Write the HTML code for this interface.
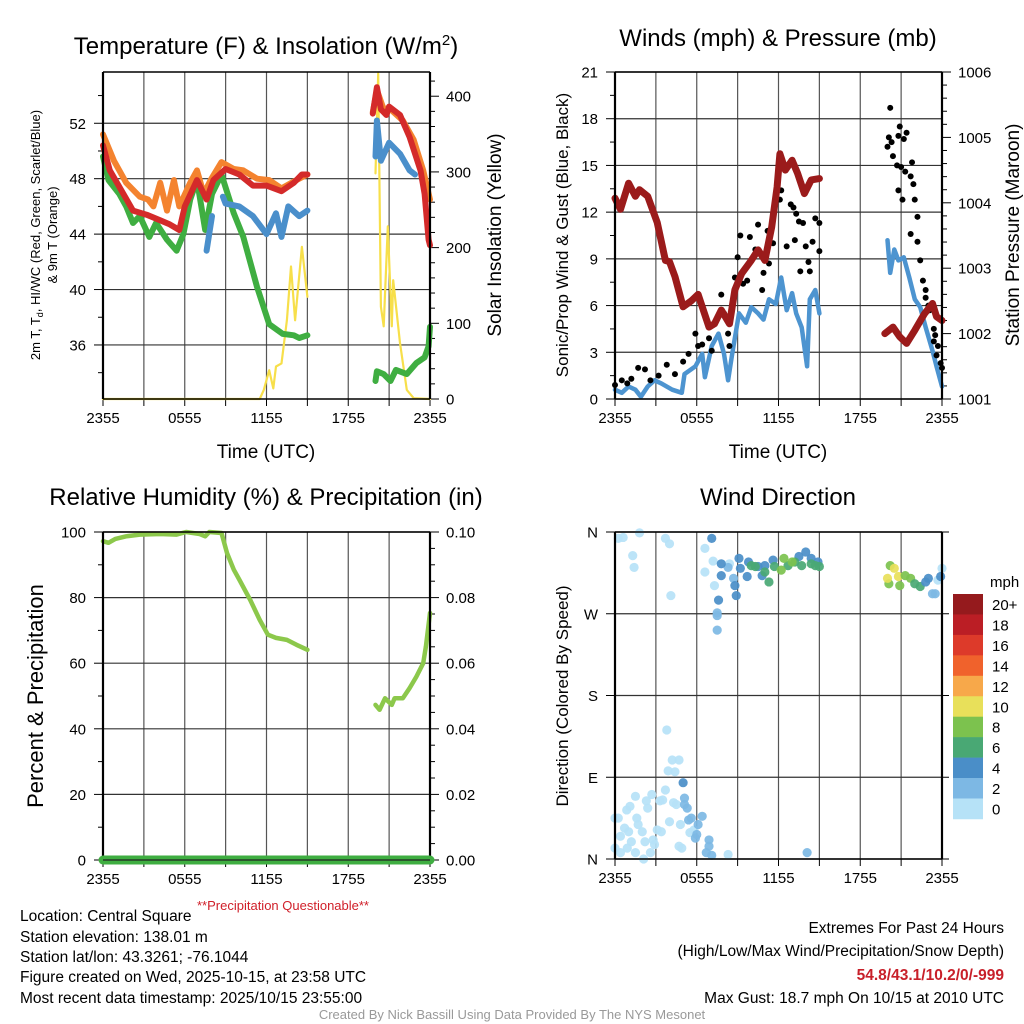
<!DOCTYPE html>
<html><head><meta charset="utf-8"><style>
html,body{margin:0;padding:0;background:#fff;}
svg{display:block;font-family:"Liberation Sans",Arial,sans-serif;}
</style></head><body>
<svg id="fig" width="1024" height="1024" viewBox="0 0 1024 1024" xmlns="http://www.w3.org/2000/svg">
<rect width="1024" height="1024" fill="#fff"/>
<g id="layer"></g>
<g font-size="24" text-anchor="middle" fill="#000">
<text x="266" y="54">Temperature (F) &amp; Insolation (W/m<tspan dy="-9" font-size="15">2</tspan><tspan dy="9">)</tspan></text>
<text x="778" y="46">Winds (mph) &amp; Pressure (mb)</text>
<text x="266" y="505">Relative Humidity (%) &amp; Precipitation (in)</text>
<text x="778" y="505">Wind Direction</text>
</g>
<g font-size="19" text-anchor="middle">
<text x="266" y="458">Time (UTC)</text>
<text x="778" y="458">Time (UTC)</text>
<text transform="translate(501,235) rotate(-90)">Solar Insolation (Yellow)</text>
<text font-size="17" transform="translate(568,235) rotate(-90)">Sonic/Prop Wind &amp; Gust (Blue, Black)</text>
<text transform="translate(1019,235) rotate(-90)">Station Pressure (Maroon)</text>
<text font-size="22" transform="translate(43,696) rotate(-90)">Percent &amp; Precipitation</text>
<text font-size="17" transform="translate(568,696) rotate(-90)">Direction (Colored By Speed)</text>
<text font-size="13" transform="translate(40,235) rotate(-90)">2m T, T<tspan font-size="9" dy="3">d</tspan><tspan dy="-3">, HI/WC (Red, Green, Scarlet/Blue)</tspan></text>
<text font-size="13" transform="translate(57,235) rotate(-90)">&amp; 9m T (Orange)</text>
</g>
<text x="283" y="910" font-size="13" fill="#d0202a" text-anchor="middle">**Precipitation Questionable**</text>
<g font-size="15.5" fill="#000">
<text x="20" y="921">Location: Central Square</text>
<text x="20" y="942">Station elevation: 138.01 m</text>
<text x="20" y="962">Station lat/lon: 43.3261; -76.1044</text>
<text x="20" y="982">Figure created on Wed, 2025-10-15, at 23:58 UTC</text>
<text x="20" y="1003">Most recent data timestamp: 2025/10/15 23:55:00</text>
</g>
<g font-size="15.5" text-anchor="end">
<text x="1004" y="933">Extremes For Past 24 Hours</text>
<text x="1004" y="956">(High/Low/Max Wind/Precipitation/Snow Depth)</text>
<text x="1004" y="980" fill="#c8202a" font-weight="bold">54.8/43.1/10.2/0/-999</text>
<text x="1004" y="1003">Max Gust: 18.7 mph On 10/15 at 2010 UTC</text>
</g>
<text x="512" y="1019" font-size="13" fill="#999" text-anchor="middle">Created By Nick Bassill Using Data Provided By The NYS Mesonet</text>
</svg>
<script>
// ---- data (time in hours after 2355 UTC) ----
const timeTicks = ["2355","0555","1155","1755","2355"];
const redT = [[0,50.4],[0.5,48.6],[1.5,46.9],[2.2,45.7],[3.2,45.4],[4.2,45.0],[4.9,44.7],[5.6,44.3],[6.0,46.0],[6.9,47.9],[7.6,46.5],[8.1,47.9],[9.0,48.7],[10.0,48.3],[11.0,47.5],[12.0,47.5],[13.1,47.1],[14.0,47.7],[14.6,48.3],[15.0,48.3],null,[19.8,52.7],[20.1,54.6],[20.4,53.0],[20.8,52.6],[21.0,53.2],[21.8,52.6],[22.5,51.0],[23.3,48.6],[23.6,46.9],[23.9,43.6],[24,43.2]];
const orangeT = [[0,51.2],[0.8,49.3],[1.7,47.7],[2.7,46.7],[3.3,46.5],[3.7,46.0],[4.2,47.7],[4.7,45.7],[5.2,47.9],[5.6,46.0],[6.4,47.7],[6.9,48.6],[7.4,46.9],[7.9,47.9],[8.7,49.2],[9.6,48.7],[10.3,48.6],[11.3,48.0],[12.2,47.9],[13.1,47.3],[14.0,47.8],[15.0,48.3],null,[19.8,52.8],[20.1,54.4],[20.6,53.0],[21.0,53.1],[22.0,52.2],[22.8,50.8],[23.5,48.6],[24,46.5]];
const greenTd = [[0,49.6],[0.4,47.9],[1.2,46.9],[1.7,46.0],[2.2,44.8],[2.7,45.3],[3.4,43.8],[3.9,44.8],[4.7,43.6],[5.4,42.8],[5.9,44.0],[6.4,46.5],[6.9,47.9],[7.5,44.3],[8.0,46.9],[8.7,48.3],[9.6,45.5],[10.3,43.8],[11.3,40.2],[12.2,37.5],[13.2,36.8],[14.0,36.7],[14.4,36.5],[15.0,36.7],null,[20.0,33.4],[20.1,34.1],[20.6,33.9],[21.1,33.4],[21.5,34.2],[22.3,33.9],[23.0,34.7],[23.6,35.1],[23.9,35.9],[24,37.3]];
const blueHI = [[7.6,42.8],[8.0,45.3],null,[8.8,46.7],[9.0,46.2],[10.0,46.0],[11.0,45.3],[12.0,44.0],[12.7,45.5],[13.1,43.8],[13.6,46.0],[14.4,45.3],[15.0,45.7],null,[20.0,49.6],[20.1,52.2],[20.4,49.3],[21.0,50.6],[21.8,49.8],[22.5,48.6],[22.9,48.3]];
const solar = [[0,0],[11.5,0],[11.8,12],[12.0,25],[12.2,38],[12.5,14],[12.7,43],[13.1,47],[13.5,104],[13.8,175],[14.1,104],[14.6,201],[15.0,135],null,[20.0,298],[20.2,430],[20.4,122],[20.6,96],[20.9,228],[21.2,96],[21.3,157],[21.8,74],[22.3,12],[22.8,1],[24,0]];
const pressure = [[0,1004.07],[0.4,1003.9],[1.0,1004.3],[1.5,1004.1],[1.8,1004.2],[2.4,1004.1],[3.1,1003.7],[3.7,1003.12],[4.0,1003.1],[4.4,1002.87],[5.0,1002.41],[5.6,1002.5],[6.1,1002.6],[6.9,1002.1],[7.3,1002.15],[7.8,1002.36],[8.4,1002.15],[8.8,1002.67],[9.3,1002.92],[10.0,1003.12],[10.5,1003.28],[11.0,1003.12],[11.5,1003.63],[11.9,1004.24],[12.1,1004.75],[12.5,1004.5],[13.0,1004.65],[13.4,1004.45],[13.9,1004.14],[14.4,1004.35],[15.0,1004.37],null,[19.8,1002.0],[20.4,1002.1],[20.9,1001.95],[21.4,1001.85],[22.0,1002.05],[22.7,1002.3],[23.3,1002.46],[23.6,1002.26],[24,1002.2]];
const windSpeed = [[0,0.6],[0.5,0.4],[1.0,0.8],[1.5,0.6],[1.9,0.15],[2.4,0.8],[2.9,1.2],[3.4,1.0],[4.2,0.6],[4.9,0.4],[5.1,1.6],[5.9,2.1],[6.4,2.9],[6.6,1.4],[7.1,3.4],[7.6,4.2],[8.0,2.9],[8.3,1.2],[8.6,2.9],[9.1,5.5],[9.6,4.9],[10.0,5.9],[10.5,5.5],[10.9,5.1],[11.3,6.4],[11.8,6.1],[12.2,7.8],[12.6,5.7],[13.0,6.8],[13.3,5.5],[13.7,4.6],[14.1,2.1],[14.3,6.4],[14.7,7.0],[15.0,5.5],null,[20.0,10.2],[20.2,8.1],[20.5,9.6],[20.8,8.9],[21.2,9.1],[21.6,7.8],[22.0,6.4],[22.4,5.9],[22.8,4.6],[23.3,3.1],[23.6,2.1],[24,0.8]];
const gustTimes = [0,0.5,0.9,1.2,1.7,2.2,2.6,3.2,3.8,4.4,5.0,5.4,5.9,6.1,6.4,6.9,7.1,7.8,8.0,8.3,8.4,8.8,9.0,9.2,9.4,9.7,9.9,10.3,10.5,10.8,10.9,11.2,11.3,11.6,12.1,12.2,12.5,12.6,12.9,13.1,13.2,13.3,13.5,13.6,13.8,14.0,14.2,14.3,14.5,14.7,15.0,15.0,20.2,20.0,20.1,20.3,20.4,20.7,20.8,20.9,21.2,21.4,21.0,21.3,21.7,21.8,21.9,20.8,21.1,22.0,22.2,21.7,22.2,22.4,22.6,22.8,22.8,23.0,23.1,23.4,23.5,23.4,23.7,23.6,23.9,24];
const gustValues = [0.9,1.2,1.0,1.3,2.0,1.9,1.2,1.5,2.2,1.6,2.4,2.9,4.2,3.4,3.5,3.9,3.1,6.7,5.5,4.2,3.4,7.8,9.1,10.5,7.4,7.6,10.4,9.6,11.2,7.0,8.1,10.8,8.7,10.0,12.8,13.4,14.7,9.8,12.5,12.3,10.2,11.9,11.4,8.2,11.3,9.8,8.8,8.2,10.1,11.6,9.5,11.3,18.7,16.2,16.8,16.5,15.6,15.0,16.9,17.5,16.7,17.1,14.9,14.6,14.3,15.2,13.8,13.4,12.8,12.8,11.7,10.6,10.1,8.9,7.6,7.0,6.5,6.0,5.7,4.5,4.1,3.7,3.4,2.8,2.3,2.0];
const rh = [[0,97.2],[0.4,96.7],[0.9,97.9],[1.7,98.7],[2.7,99.2],[4.2,99.4],[5.4,99.2],[6.1,100],[7.1,99.4],[7.5,98.7],[7.8,100],[8.7,99.7],[9.1,93.6],[9.6,88.5],[10.0,85.5],[10.8,79.3],[11.5,73.2],[12.1,68.7],[12.7,67.7],[13.5,67.1],[14.2,65.6],[15.0,64.1],null,[20.0,47.3],[20.3,45.8],[20.7,49.3],[21.2,47.3],[21.4,49.3],[22.0,49.3],[22.5,52.4],[23.0,55.9],[23.5,60.0],[23.7,65.1],[24.0,75.3]];
const precip = [[0,0],[24,0]];
const dirTimes = [0.24,0.6,1.8,3.7,4.0,1.3,1.4,4.1,6.6,7.2,6.6,7.3,8.4, 7.1,8.3,8.7,7.5,7.5,7.5, 7.8,7.8,7.6,8.8,8.9,9.1,9.2,9.7,9.8,10.5,10.8,11.0,11.6,13.5,14.0,14.4,14.9, 10.0,10.3,11.3,11.0,11.7,12.7,13.2,13.7,14.4,14.7,15.0, 12.4,12.2,13.0, 20.2,20.1,20.0,20.5,20.8,20.9,21.3,21.7,22.0,22.4,22.8,23.0,23.3,23.5,23.7,24,23.9, 0,0.24,0.86,1.1,1.5,1.0,0.7,0.4,0,0.4,0.9,1.5,2.1,2.6,2.2,2.4,2.7,2.3,1.6,1.7,2.0,2.8,3.1,3.4,3.3,3.5,3.7,3.8,4.2,4.7,3.9,4.4,4.3,4.5,4.0,4.8,4.7,4.9,5.5,5.8,8.3,2.9,1.2, 5.1,5.1,5.3,5.4,5.6,6.1,6.4,6.0,5.9,6.9,6.9,6.7,7.1,14.1,5.0];
const dirValues = [353,354,359,353,347,334,321,290,342,328,316,301,325, 353,321,309,271,268,252, 325,312,285,301,290,331,320,311,327,322,312,323,329,333,338,331,327, 323,322,305,316,322,323,327,323,325,323,322, 331,318,327, 323,303,309,320,311,301,312,309,303,300,305,309,292,292,307,320,311, 45,45,54,58,69,30,34,25,12,7,12,7,0,7,19,56,71,64,45,38,30,21,32,30,64,65,76,142,109,109,97,96,62,60,41,38,14,12,29,32,5,16,19, 67,60,56,43,45,38,47,27,23,21,14,7,4,7,84];
const dirSpeeds = [1,1,1,1,1,1,1,1,1,1,1,1,1, 5,3,3,3,3,3, 5,5,5,5,5,5,5,5,5,5,5,5,5,5,5,5,5, 7,7,7,7,7,7,7,7,7,7,7, 9,9,9, 9,9,11,11,11,9,9,9,7,7,5,5,3,3,1,1,5, 1,1,1,1,1,1,1,1,1,1,1,1,1,1,1,1,1,1,1,1,1,1,1,1,1,1,1,1,1,1,1,1,1,1,1,1,1,1,1,1,1,1,1, 3,3,3,3,3,3,3,3,3,3,3,3,3,3,5];
const cbarLabels = ["20+","18","16","14","12","10","8","6","4","2","0"];
const cbarColors = ["#951a1d","#bb1e25","#dd3a2a","#f0622c","#f7a84a","#e8e05a","#7cc24e","#49a874","#4a8ec8","#7db8e4","#b6e2f7"];
const dirLabels = ["N","W","S","E","N"];

const NS = "http://www.w3.org/2000/svg";
const layer = document.getElementById('layer');
function el(tag, attrs, parent){const e=document.createElementNS(NS,tag);for(const k in attrs)e.setAttribute(k,attrs[k]);(parent||layer).appendChild(e);return e;}
function lin(d0,d1,r0,r1){return v=>r0+(v-d0)/(d1-d0)*(r1-r0);}
function pathD(data,xs,ys){let d="",pen=false;for(const p of data){if(!p){pen=false;continue;}d+=(pen?"L":"M")+xs(p[0]).toFixed(1)+","+ys(p[1]).toFixed(1);pen=true;}return d;}

const P1={l:103,r:430,t:72,b:399},P2={l:615,r:942,t:72,b:399},P3={l:103,r:430,t:532,b:860},P4={l:615,r:942,t:532,b:859};

function frame(P,name,xs){
  const g=el('g',{});
  
  
  for(let h=3;h<24;h+=3){const x=xs(h);el('line',{x1:x,x2:x,y1:P.t,y2:P.b,stroke:'#555','stroke-width':1.2},g);}
  for(let h=0;h<=24;h+=3){const x=xs(h);el('line',{x1:x,x2:x,y1:P.b,y2:P.b+7,stroke:'#000','stroke-width':1},g);}
  timeTicks.forEach((s,i)=>{const t=el('text',{x:xs(i*6),y:P.b+24,'font-size':15,'text-anchor':'middle'},g);t.textContent=s;
    
    });
  return g;
}
function border(P){
  el('line',{x1:P.l,x2:P.r,y1:P.t,y2:P.t,stroke:'#000','stroke-width':1.5});
  el('line',{x1:P.l,x2:P.r,y1:P.b,y2:P.b,stroke:'#000','stroke-width':1.5});
  el('line',{x1:P.l,x2:P.l,y1:P.t,y2:P.b,stroke:'#000','stroke-width':2.2});
  el('line',{x1:P.r,x2:P.r,y1:P.t,y2:P.b,stroke:'#000','stroke-width':2.2});
}
function yaxis(P,ys,majors,minors,fmt,side,name,grid){
  const g=el('g',{});
  
  
  const x0=side==='l'?P.l:P.r, dir=side==='l'?-1:1;
  majors.forEach(v=>{const y=ys(v);
    if(grid)el('line',{x1:P.l,x2:P.r,y1:y,y2:y,stroke:'#333','stroke-width':1.2},g);
    el('line',{x1:x0,x2:x0+dir*9,y1:y,y2:y,stroke:'#000','stroke-width':1},g);
    const t=el('text',{x:x0+dir*(side==='l'?17:16),y:y+5.5,'font-size':15,'text-anchor':side==='l'?'end':'start'},g);t.textContent=fmt(v);});
  minors.forEach(v=>{const y=ys(v);el('line',{x1:x0,x2:x0+dir*5,y1:y,y2:y,stroke:'#000','stroke-width':1},g);});
}
function range(a,b,s){const r=[];for(let v=a;v<=b+1e-9;v+=s)r.push(+v.toFixed(4));return r;}

// ---- Panel 1 ----
const x1=lin(0,24,P1.l,P1.r), yT=lin(32.1,55.7,P1.b,P1.t), yS=lin(0,432,P1.b,P1.t);
frame(P1,'p1',x1);
yaxis(P1,yT,[36,40,44,48,52],[34,38,42,46,50,54],v=>v,'l','p1-left-axis',true);
yaxis(P1,yS,[0,100,200,300,400],range(20,420,20).filter(v=>v%100),v=>v,'r','p1-right-axis',false);
[[solar,'#f7df4a',2.2,'solar-insolation-line',yS],[greenTd,'#3fae41',6,'dewpoint-line',yT],[blueHI,'#4a8fcb',6,'heat-index-line',yT],[orangeT,'#f4832f',6,'temp-9m-line',yT],[redT,'#d42a2a',6,'temp-2m-line',yT]].forEach(s=>{
  const p=el('path',{d:pathD(s[0],x1,s[4]),fill:'none',stroke:s[1],'stroke-width':s[2],'stroke-linejoin':'round','stroke-linecap':'round'});
  
  
});
border(P1);

// ---- Panel 2 ----
const x2=lin(0,24,P2.l,P2.r), yW=lin(0,21,P2.b,P2.t), yP=lin(1001,1006,P2.b,P2.t);
frame(P2,'p2',x2);
yaxis(P2,yW,range(0,21,3),range(1.5,19.5,3),v=>v,'l','p2-left-axis',true);
yaxis(P2,yP,range(1001,1006,1),range(1001.2,1005.8,0.2).filter(v=>Math.abs(v-Math.round(v))>0.01),v=>v,'r','p2-right-axis',false);
{const p=el('path',{d:pathD(windSpeed,x2,yW),fill:'none',stroke:'#4d94d0','stroke-width':4.5,'stroke-linejoin':'round','stroke-linecap':'round'});

}
gustTimes.forEach((t,i)=>{const c=el('circle',{cx:x2(t),cy:yW(gustValues[i]),r:3,fill:'#000'});
  
  });
{const p=el('path',{d:pathD(pressure,x2,yP),fill:'none',stroke:'#9b1b1b','stroke-width':7,'stroke-linejoin':'round','stroke-linecap':'round'});

}
border(P2);

// ---- Panel 3 ----
const x3=lin(0,24,P3.l,P3.r), yR=lin(0,100,P3.b,P3.t), yPr=lin(0,0.1,P3.b,P3.t);
frame(P3,'p3',x3);
yaxis(P3,yR,range(0,100,20),range(10,90,20),v=>v,'l','p3-left-axis',true);
yaxis(P3,yPr,range(0,0.1,0.02),range(0.005,0.095,0.005).filter(v=>Math.abs(v/0.02-Math.round(v/0.02))>0.01),v=>v.toFixed(2),'r','p3-right-axis',false);
{const p=el('path',{d:pathD(rh,x3,yR),fill:'none',stroke:'#8cc84b','stroke-width':4.5,'stroke-linejoin':'round','stroke-linecap':'round'});

}
border(P3);
{const p=el('path',{d:pathD(precip,x3,yPr),fill:'none',stroke:'#3fae41','stroke-width':9,'stroke-linecap':'round'});

}
el('line',{x1:P3.l,x2:P3.r,y1:P3.b,y2:P3.b,stroke:'#222','stroke-width':1.2});

// ---- Panel 4 ----
const x4=lin(0,24,P4.l,P4.r), yD=lin(0,360,P4.b,P4.t);
frame(P4,'p4',x4);
yaxis(P4,yD,[360,270,180,90,0],[],v=>dirLabels[4-v/90],'l','p4-left-axis',true);
[360,270,180,90,0].forEach(v=>el('line',{x1:P4.r,x2:P4.r+7,y1:yD(v),y2:yD(v),stroke:'#000'}));
function spdColor(s){const i=Math.min(10,Math.floor(s/2));return cbarColors[10-i];}
dirTimes.forEach((t,i)=>{const c=el('circle',{cx:x4(t),cy:yD(dirValues[i]),r:4.6,fill:spdColor(dirSpeeds[i]),opacity:0.92});
  
  });
border(P4);

// colorbar
{const g=el('g',{});


const top=594,h=20.45;
cbarColors.forEach((c,i)=>{el('rect',{x:953,y:top+i*h,width:30,height:h+0.3,fill:c},g);
  const t=el('text',{x:992,y:top+i*h+16,'font-size':15},g);t.textContent=cbarLabels[i];});
const u=el('text',{x:990,y:587,'font-size':15},g);u.textContent='mph';}
</script>
</body></html>
